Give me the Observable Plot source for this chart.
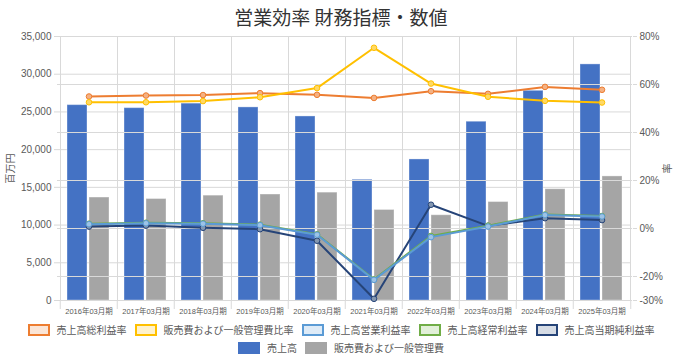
<!DOCTYPE html>
<html><head><meta charset="utf-8">
<script src="https://cdn.jsdelivr.net/npm/d3@7"></script>
<script src="https://cdn.jsdelivr.net/npm/@observablehq/plot@0.6"></script>
<style>
body{margin:0;background:#fff;font-family:"Liberation Sans","Noto Sans CJK JP",sans-serif;}
#wrap{position:relative;width:682px;height:360px;overflow:hidden;}
#title{position:absolute;left:0;top:4px;width:682px;text-align:center;font-family:"Noto Sans CJK JP",sans-serif;font-size:19px;line-height:26px;color:#333;}
.layer{position:absolute;left:0;top:26px;}
.legend{position:absolute;left:0;width:682px;display:flex;justify-content:center;align-items:center;font-family:"Noto Sans CJK JP",sans-serif;font-size:10px;color:#595959;line-height:14px;}
.item{display:flex;align-items:center;margin:0 4px;}
.sw{width:18px;height:8px;margin-right:7px;box-sizing:content-box;}
</style></head>
<body><div id="wrap"><div id="title">営業効率 財務指標・数値</div>
<div id="bars" class="layer"></div><div id="lines" class="layer"></div>
<div id="leg1" class="legend" style="top:323px"></div>
<div id="leg2" class="legend" style="top:341px"></div>
</div>
<script>
const years = ["2016年03月期","2017年03月期","2018年03月期","2019年03月期","2020年03月期","2021年03月期","2022年03月期","2023年03月期","2024年03月期","2025年03月期"];
const sales = [25900, 25500, 26100, 25600, 24400, 16000, 18700, 23700, 27800, 31300];
const sga = [13650, 13450, 13900, 14050, 14300, 12000, 11300, 13050, 14750, 16450];
const grossMargin = [55.0, 55.4, 55.6, 56.4, 55.7, 54.4, 57.2, 56.1, 59.0, 57.8];
const sgaRatio = [52.6, 52.6, 53.1, 54.7, 58.5, 75.3, 60.4, 54.9, 53.2, 52.5];
const opMargin = [1.8, 2.2, 2.0, 1.4, -2.6, -21.4, -3.6, 0.8, 5.6, 5.0];
const ordMargin = [2.0, 2.4, 2.2, 1.6, -2.4, -21.2, -3.1, 1.2, 5.8, 5.2];
const netMargin = [0.8, 1.2, 0.3, -0.3, -5.1, -29.3, 9.9, 1.1, 4.3, 3.5];
const leftTicks = [0, 5000, 10000, 15000, 20000, 25000, 30000, 35000];
const rightTicks = [-30, -20, 0, 20, 40, 60, 80];
const barSeries = ["売上高", "販売費および一般管理費"];
const lineSeries = ["売上高総利益率", "販売費および一般管理費比率", "売上高営業利益率", "売上高経常利益率", "売上高当期純利益率"];
const barColors = ["#4472C4", "#A5A5A5"];
const lineColors = ["#ED7D31", "#FFC000", "#5B9BD5", "#70AD47", "#264478"];
const markerFills = ["#F4B183", "#FFD966", "#9DC3E6", "#A9D18E", "#8497B0"];
const legendFills = ["#FBE5D6", "#FFF2CC", "#DEEBF7", "#E2F0D9", "#D6DCE5"];
const drawOrder = [0, 1, 4, 3, 2];

const W = 682, H = 290, MT = 10, MR = 50, MB = 16, ML = 57;
const GRID = "#D9D9D9";
const font = '"Liberation Sans","Noto Sans CJK JP",sans-serif';

const barData = years.flatMap((y, i) => [
  {year: y, series: barSeries[0], value: sales[i]},
  {year: y, series: barSeries[1], value: sga[i]}
]);
const lineValues = [grossMargin, sgaRatio, opMargin, ordMargin, netMargin];
const lineData = lineSeries.map((s, k) => years.map((y, i) => ({year: y, series: s, value: lineValues[k][i]})));

const bars = Plot.plot({
  width: W, height: H, marginTop: MT, marginRight: MR, marginBottom: MB, marginLeft: ML,
  style: {fontFamily: font, fontSize: "10px", color: "#595959", background: "transparent"},
  fx: {domain: years, padding: 0, label: null},
  x: {domain: barSeries, paddingInner: 0.087, paddingOuter: 0.29, axis: null},
  y: {domain: [0, 35000]},
  color: {domain: barSeries, range: barColors},
  marks: [
    Plot.gridY(leftTicks, {stroke: GRID, strokeOpacity: 1}),
    Plot.frame({stroke: GRID, strokeOpacity: 1}),
    Plot.barY(barData, {fx: "year", x: "series", y: "value", fill: "series", stroke: "#fff", strokeOpacity: 0.35, strokeWidth: 1}),
    Plot.axisY({ticks: leftTicks, tickFormat: d3.format(","), tickSize: 6, tickPadding: 3, stroke: GRID, strokeOpacity: 1,
      label: "百万円", labelAnchor: "center", labelOffset: 54, labelArrow: "none", fontSize: 10}),
    Plot.axisFx({anchor: "bottom", tickSize: 0, tickPadding: 8, fontSize: 7.5, label: null})
  ]
});
document.getElementById("bars").appendChild(bars);

const bw = (W - ML - MR) / years.length;
const lineMarks = [];
drawOrder.forEach(k => {
  lineMarks.push(Plot.line(lineData[k], {x: "year", y: "value", stroke: lineColors[k], strokeWidth: 2}));
  lineMarks.push(Plot.dot(lineData[k], {x: "year", y: "value", stroke: lineColors[k], fill: markerFills[k], r: 2.8, strokeWidth: 1}));
});

const lines = Plot.plot({
  width: W, height: H, marginTop: MT, marginRight: MR, marginBottom: MB, marginLeft: ML,
  style: {fontFamily: font, fontSize: "10px", color: "#595959", background: "transparent"},
  x: {domain: years, type: "band", padding: 0, axis: null},
  y: {domain: [-30, 80]},
  marks: [
    Plot.gridY(rightTicks, {stroke: GRID, strokeOpacity: 1}),
    Plot.ruleX(years, {x: d => d, y1: -30, y2: -30, dx: -bw / 2, insetBottom: -9, stroke: GRID}),
    Plot.ruleX(years.slice(-1), {x: d => d, y1: -30, y2: -30, dx: bw / 2, insetBottom: -9, stroke: GRID}),
    ...lineMarks,
    Plot.axisY({anchor: "right", ticks: rightTicks, tickFormat: d => d + "%", tickSize: 4, tickPadding: 3, stroke: GRID, strokeOpacity: 1,
      label: "率", labelAnchor: "center", labelOffset: 38, labelArrow: "none", fontSize: 10})
  ]
});
document.getElementById("lines").appendChild(lines);

function addItem(host, label, fill, stroke) {
  const it = document.createElement("div"); it.className = "item";
  const sw = document.createElement("div"); sw.className = "sw";
  sw.style.background = fill;
  sw.style.border = stroke ? "2px solid " + stroke : "2px solid " + fill;
  const tx = document.createElement("span"); tx.textContent = label;
  it.appendChild(sw); it.appendChild(tx); host.appendChild(it);
}
const leg1 = document.getElementById("leg1");
lineSeries.forEach((s, k) => addItem(leg1, s, legendFills[k], lineColors[k]));
const leg2 = document.getElementById("leg2");
barSeries.forEach((s, k) => addItem(leg2, s, barColors[k], null));
</script></body></html>
